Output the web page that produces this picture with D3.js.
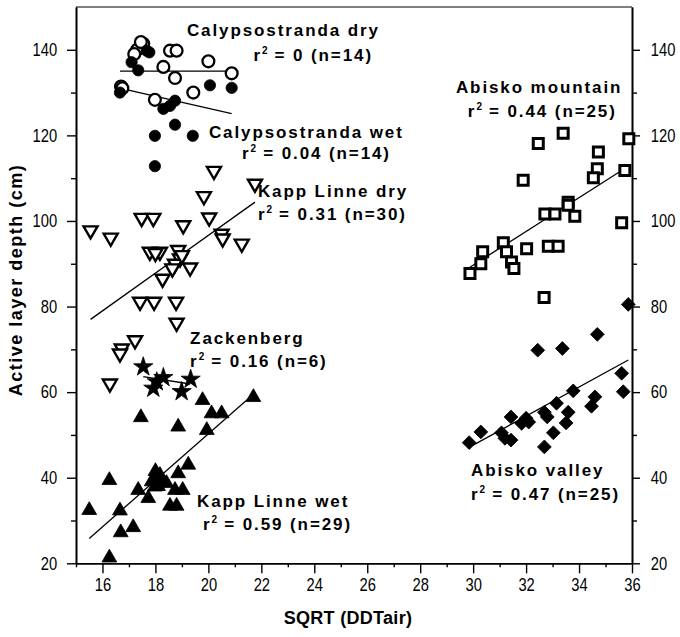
<!DOCTYPE html>
<html>
<head>
<meta charset="utf-8">
<script src="https://cdn.jsdelivr.net/npm/d3@7"></script>
<style>
  html, body { margin: 0; padding: 0; background: #fff; }
  svg { display: block; }
  .lbl { font-family: "Liberation Sans", Arial, sans-serif; font-weight: bold; font-size: 17px; letter-spacing: 1.9px; fill: #000; }
  .tick text { font-family: "Liberation Sans", Arial, sans-serif; font-size: 18px; fill: #000; }
  .axtitle { font-family: "Liberation Sans", Arial, sans-serif; font-weight: bold; font-size: 18px; fill: #000; }
</style>
</head>
<body>
<svg id="chart" width="680" height="637"></svg>
<script>
// ---- data (x = SQRT(DDTair), y = active layer depth, cm) ----
const calyDry = [[17.54,141.4],[17.31,140.0],[17.45,141.8],[18.55,139.8],[18.80,139.8],[20.0,137.3],[18.30,136.0],[18.74,133.4],[20.88,134.5],[19.43,130.0],[16.70,131.4],[17.98,128.3],[17.2,139.0],[16.75,131.0]];
const calyWet = [[17.67,139.8],[17.77,139.4],[17.10,137.1],[17.35,135.2],[20.06,131.7],[20.88,131.1],[16.66,130.0],[18.30,126.2],[18.74,128.1],[18.55,126.9],[18.74,122.5],[17.98,119.9],[19.41,119.9],[17.98,112.8]];
const kappDry = [[20.21,111.7],[21.76,108.7],[19.83,105.8],[20.03,100.8],[17.48,100.7],[17.92,100.7],[19.05,99.0],[15.55,97.8],[16.31,96.1],[20.50,97.0],[20.54,95.9],[21.26,94.7],[17.79,92.8],[18.17,92.8],[18.86,93.2],[18.93,91.2],[18.74,90.0],[19.0,92.0],[19.31,89.1],[18.64,88.9],[18.27,86.5],[17.42,81.1],[17.95,81.1],[18.78,81.1],[18.80,76.2],[17.23,72.1],[16.73,70.2],[16.66,69.0],[16.28,62.0],[18.0,92.5]];
const zack = [[17.54,65.9],[18.30,63.4],[18.05,62.4],[17.92,60.9],[18.99,60.1],[19.33,63.0]];
const kappWet = [[21.70,58.8],[19.78,58.1],[20.12,55.0],[20.50,55.0],[17.45,54.1],[18.86,51.9],[19.94,51.1],[16.26,39.4],[19.24,43.0],[18.86,41.0],[18.17,40.6],[17.86,39.1],[18.24,39.1],[17.98,37.9],[17.35,37.1],[18.74,37.1],[19.03,37.1],[17.73,35.2],[18.55,33.4],[18.80,33.4],[15.50,32.4],[16.66,32.3],[17.16,28.4],[16.69,27.2],[16.26,21.3],[18.05,40.2],[18.42,38.7],[18.0,41.5],[18.1,38.0]];
const abMtn = [[33.40,120.5],[32.46,118.1],[35.88,119.2],[34.73,116.1],[34.69,112.2],[34.54,110.1],[35.73,111.8],[31.89,109.5],[33.59,104.4],[33.59,103.7],[32.71,101.6],[33.09,101.6],[33.84,101.1],[35.61,99.6],[31.14,94.9],[31.26,92.8],[31.45,90.4],[31.54,88.9],[32.02,93.5],[32.84,94.1],[33.21,94.1],[30.36,92.8],[30.29,90.0],[29.88,87.7],[32.68,82.1]];
const abVal = [[35.86,80.5],[34.69,73.5],[32.44,69.8],[33.37,70.2],[35.61,64.4],[35.67,60.1],[33.78,60.3],[34.60,58.9],[34.47,56.7],[33.15,57.4],[33.59,55.3],[33.51,52.8],[32.69,55.3],[32.80,54.2],[32.00,53.9],[31.83,52.7],[31.43,54.2],[33.03,50.5],[32.69,47.2],[31.07,50.5],[31.20,49.2],[31.43,48.8],[30.29,50.7],[29.85,48.2],[32.1,53.0]];

// regression lines (end points)
const calyDryFit = [[16.66,135.0],[20.88,135.0]];
const calyWetFit = [[16.73,130.9],[20.88,125.1]];
const kappDryFit = [[15.55,77.0],[21.76,104.4]];
const zackFit = [[17.54,63.6],[19.31,61.9]];
const kappWetFit = [[15.50,25.8],[21.70,59.5]];
const abMtnFit = [[29.88,89.2],[35.86,112.8]];
const abValFit = [[29.88,47.2],[35.86,67.5]];

// annotation texts
const siteNames = ["Calypsostranda dry","Calypsostranda wet","Kapp Linne dry","Zackenberg","Kapp Linne wet","Abisko mountain","Abisko valley"];
const r2Values = ["0","0.04","0.31","0.16","0.59","0.44","0.47"];
const nValues = [14,14,30,6,29,25,25];

// axis ticks
const xMajorTicks = [16,18,20,22,24,26,28,30,32,34,36];
const xMinorTicks = [15,17,19,21,23,25,27,29,31,33,35];
const yMajorTicks = [20,40,60,80,100,120,140];
const yMinorTicks = [30,50,70,90,110,130];

// ---- layout ----
const W = 680, H = 637;
const X0 = 76, X1 = 632, Y0 = 563.3, Y1 = 7;
const NARROW = 0.82; // horizontal squeeze of the tick label font
// annotation anchors in data units [title x, title y, r2 x, r2 y]
const labelAnchors = [
  [19.19,143.2,21.70,137.3],
  [20.02,119.5,21.27,114.4],
  [21.87,105.5,21.87,100.2],
  [19.31,71.3,19.31,65.8],
  [19.57,33.1,19.80,27.7],
  [29.35,129.8,29.80,124.4],
  [29.92,40.4,29.92,34.9]
];

const svg = d3.select("#chart");
const x = d3.scaleLinear().domain([15,36]).range([X0,X1]);
const y = d3.scaleLinear().domain([20,150]).range([Y0,Y1]);

// axes
function styleAxis(g){ g.select(".domain").attr("stroke","#000").attr("stroke-width",1.6); g.selectAll(".tick line").attr("stroke","#000").attr("stroke-width",1.4); }
function squeeze(g){ g.selectAll(".tick text").attr("transform",`scale(${NARROW},1)`); }
svg.append("g").attr("transform",`translate(0,${Y0})`)
  .call(d3.axisBottom(x).tickValues(xMinorTicks).tickSize(4).tickFormat("").tickSizeOuter(0)).call(styleAxis);
svg.append("g").attr("transform",`translate(0,${Y0})`)
  .call(d3.axisBottom(x).tickValues(xMajorTicks).tickSize(10).tickPadding(5).tickSizeOuter(0)).call(styleAxis).call(squeeze);
svg.append("g").attr("transform",`translate(${X0},0)`)
  .call(d3.axisLeft(y).tickValues(yMinorTicks).tickSize(5).tickFormat("").tickSizeOuter(0)).call(styleAxis);
svg.append("g").attr("transform",`translate(${X0},0)`)
  .call(d3.axisLeft(y).tickValues(yMajorTicks).tickSize(9).tickPadding(14).tickSizeOuter(0)).call(styleAxis).call(squeeze);
svg.append("g").attr("transform",`translate(${X1},0)`)
  .call(d3.axisRight(y).tickValues(yMinorTicks).tickSize(5).tickFormat("").tickSizeOuter(0)).call(styleAxis);
svg.append("g").attr("transform",`translate(${X1},0)`)
  .call(d3.axisRight(y).tickValues(yMajorTicks).tickSize(8).tickPadding(15).tickSizeOuter(0)).call(styleAxis).call(squeeze);
svg.append("line").attr("x1",X0).attr("x2",X1).attr("y1",Y1).attr("y2",Y1).attr("stroke","#000").attr("stroke-width",1);

// axis titles
svg.append("text").attr("class","axtitle").attr("x",348).attr("y",624).attr("text-anchor","middle").attr("letter-spacing","0.3px").text("SQRT (DDTair)");
svg.append("text").attr("class","axtitle").attr("transform",`translate(22,${280}) rotate(-90)`).attr("text-anchor","middle").attr("letter-spacing","1.5px").text("Active layer depth (cm)");

// regression lines
const line = d3.line().x(d=>x(d[0])).y(d=>y(d[1]));
[calyDryFit,calyWetFit,kappDryFit,zackFit,kappWetFit,abMtnFit,abValFit].forEach(f=>{
  svg.append("path").attr("d",line(f)).attr("fill","none").attr("stroke","#000").attr("stroke-width",1.3);
});

// points
function plot(data, type, size, filled, rotate, sw){
  const sym = d3.symbol().type(type).size(size);
  svg.append("g").selectAll("path").data(data).join("path")
    .attr("d", sym)
    .attr("transform", d=>`translate(${x(d[0])},${y(d[1])}) rotate(${rotate||0})`)
    .attr("fill", filled ? "#000" : "#fff")
    .attr("stroke", "#000")
    .attr("stroke-width", sw);
}
plot(calyDry, d3.symbolCircle, 110, false, 0, 2.3);
plot(calyWet, d3.symbolCircle, 100, true, 0, 0.8);
plot(kappDry, d3.symbolTriangle, 85, false, 180, 2.4);
plot(zack, d3.symbolStar, 115, true, 0, 0.8);
plot(kappWet, d3.symbolTriangle, 95, true, 0, 0.8);
plot(abMtn, d3.symbolSquare, 100, false, 0, 3);
plot(abVal, d3.symbolSquare, 95, true, 45, 0.8);

// annotations
siteNames.forEach((name,i)=>{
  const a = labelAnchors[i];
  svg.append("text").attr("class","lbl").attr("x",x(a[0])).attr("y",y(a[1])).text(name);
  const t = svg.append("text").attr("class","lbl").attr("x",x(a[2])).attr("y",y(a[3]));
  t.append("tspan").text("r");
  t.append("tspan").attr("font-size","10px").attr("dy","-7").attr("letter-spacing","0.5px").text("2");
  t.append("tspan").attr("dy","7").text(` = ${r2Values[i]} (n=${nValues[i]})`);
});
</script>
</body>
</html>
